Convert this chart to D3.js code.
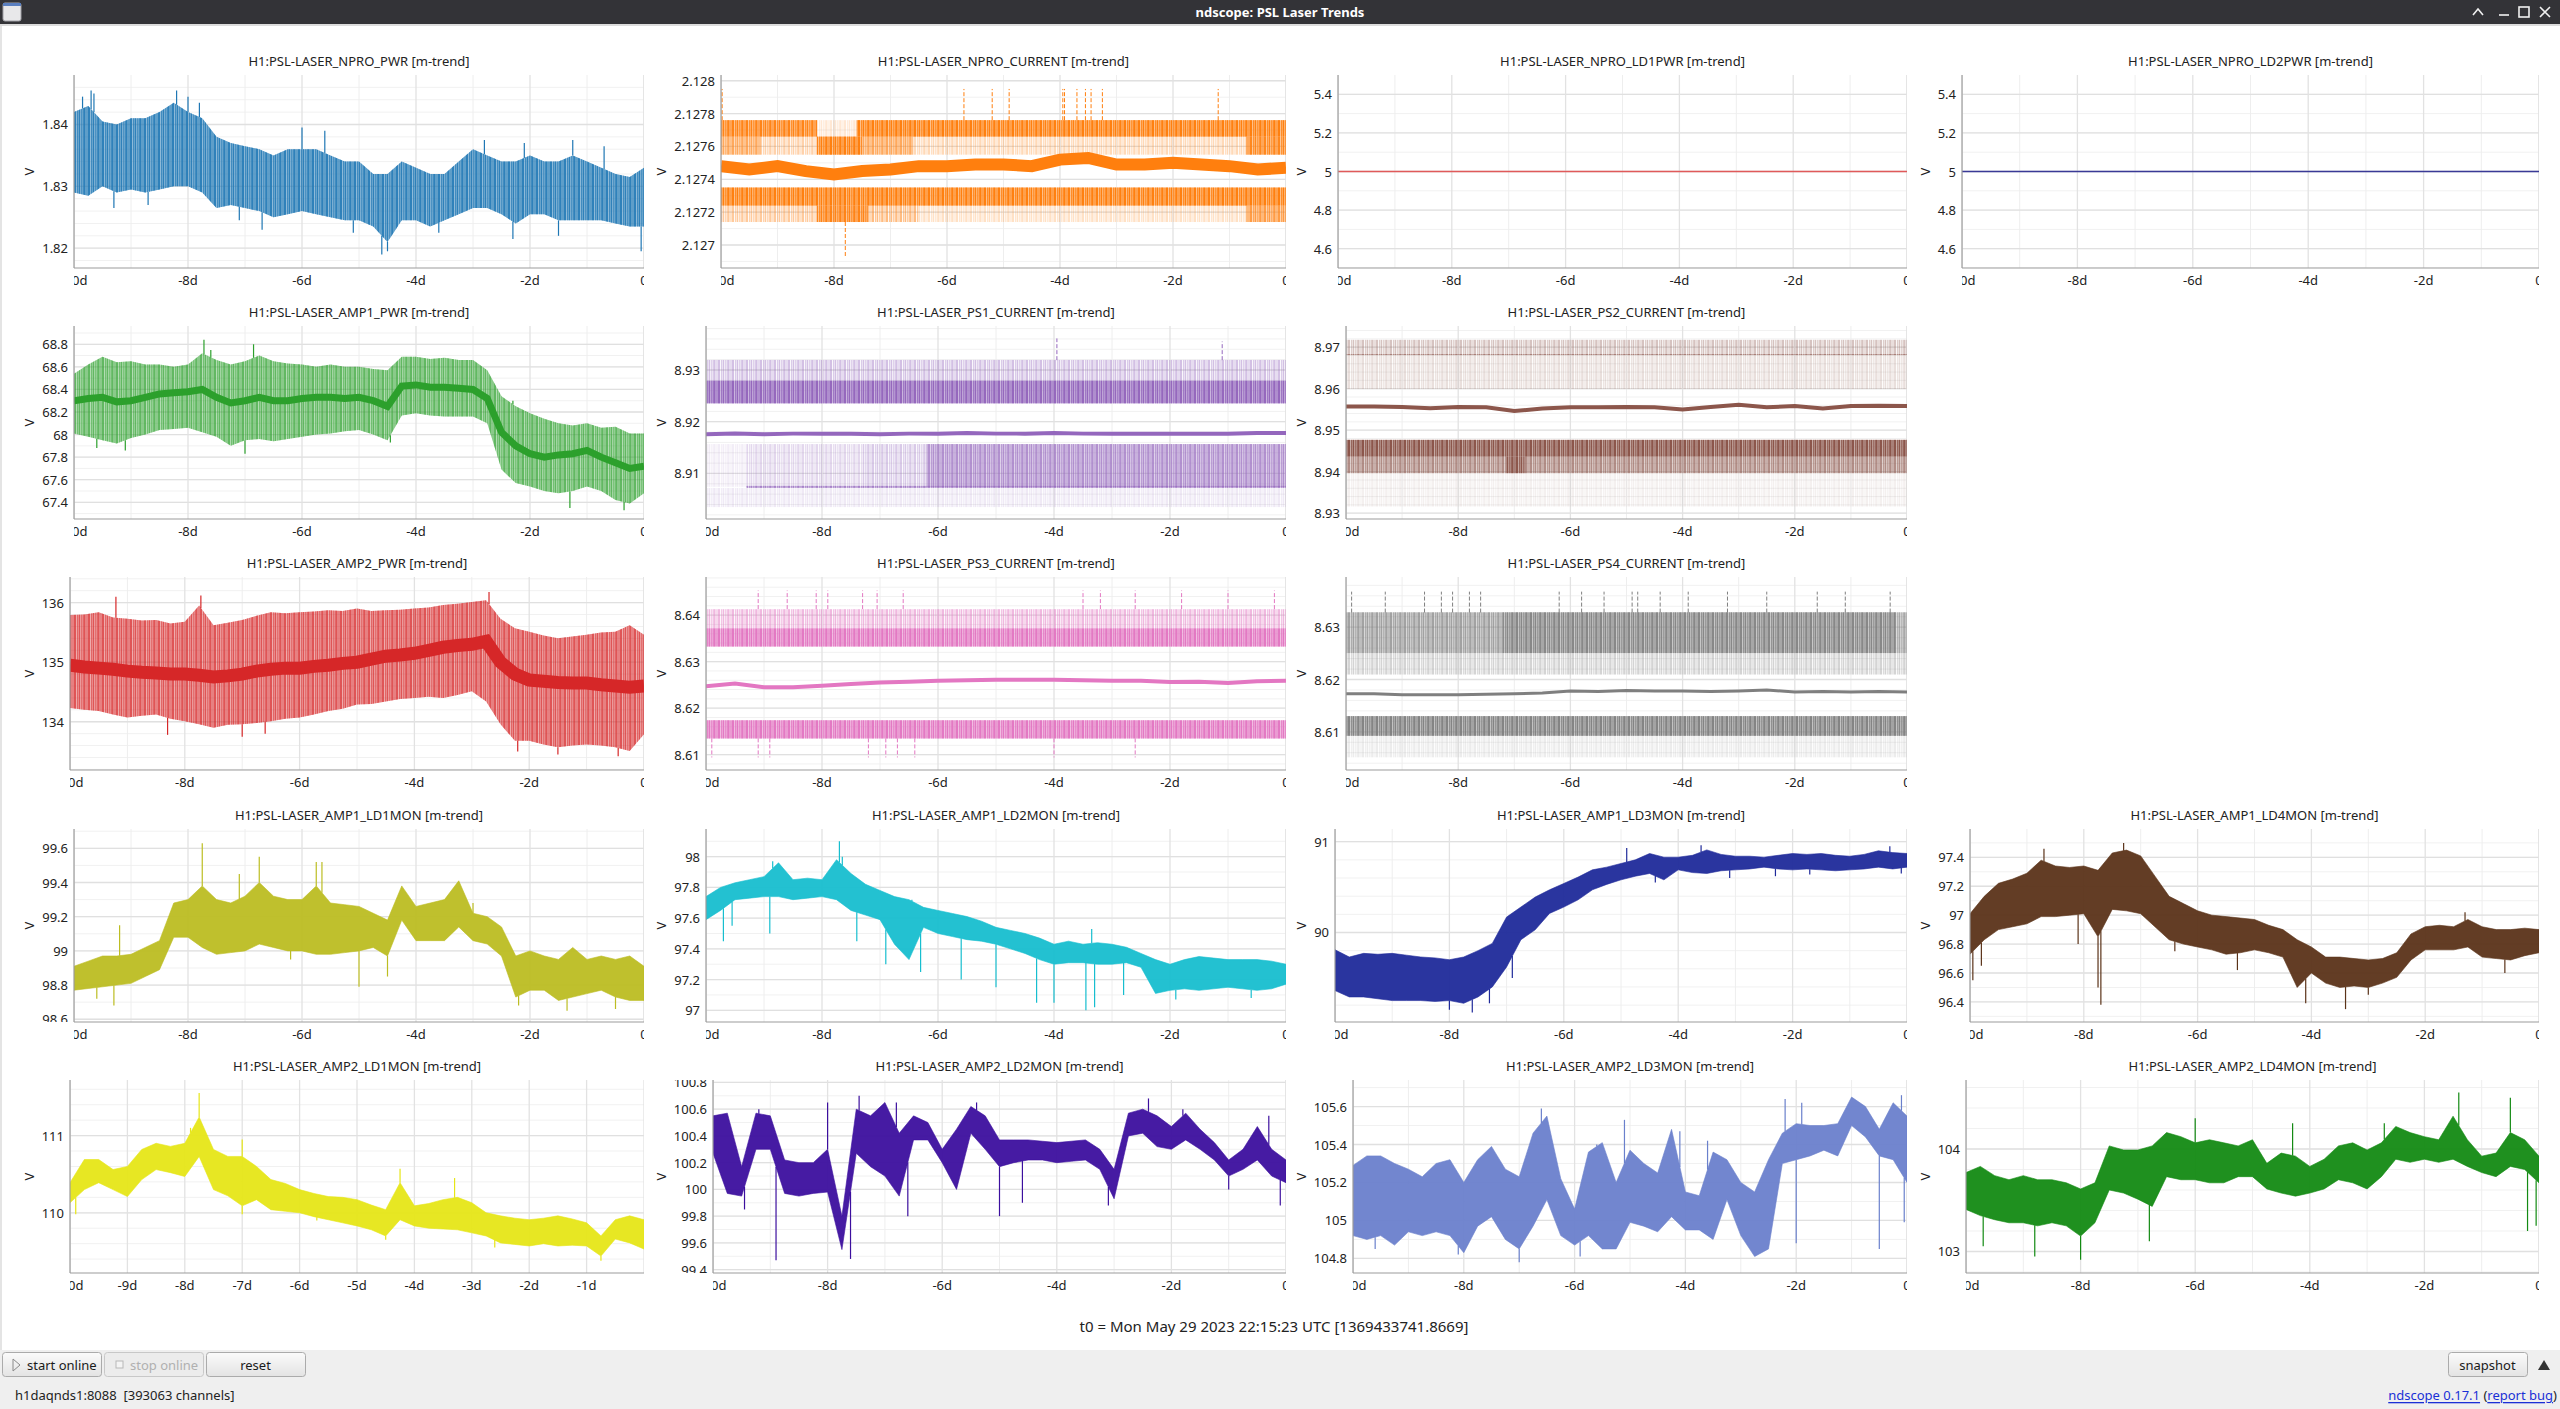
<!DOCTYPE html>
<html>
<head>
<meta charset="utf-8">
<script src="https://cdn.jsdelivr.net/npm/d3@7"></script>
<style>
  body { margin: 0; background: #fff; overflow: hidden; }
  svg { display: block; font-family: "Noto Sans", "DejaVu Sans", sans-serif; }
</style>
</head>
<body>
<svg id="chart" width="2560" height="1409"></svg>
<script>
// ---- data (time in days before t0) ----
const xTicksTwoDay = [-10, -8, -6, -4, -2, 0];
const xMinorTwoDay = [-9, -7, -5, -3, -1];
const xTicksDaily = [-10, -9, -8, -7, -6, -5, -4, -3, -2, -1];

// NPRO_PWR
const nproPwrDomain = [1.8168, 1.848];
const nproPwrTicks = [1.82, 1.83, 1.84];
const nproPwrHi = [1.842, 1.843, 1.8405, 1.840, 1.841, 1.841, 1.842, 1.8435, 1.842, 1.841,
  1.838, 1.837, 1.8365, 1.836, 1.835, 1.836, 1.836, 1.836, 1.835, 1.834,
  1.834, 1.832, 1.832, 1.834, 1.833, 1.832, 1.832, 1.834, 1.836, 1.835,
  1.834, 1.834, 1.835, 1.834, 1.834, 1.835, 1.834, 1.833, 1.832, 1.8315,
  1.833];
const nproPwrLo = [1.829, 1.8285, 1.830, 1.829, 1.8295, 1.829, 1.8295, 1.830, 1.830, 1.829,
  1.8265, 1.827, 1.8265, 1.826, 1.825, 1.8255, 1.826, 1.8255, 1.825, 1.8245,
  1.8245, 1.8235, 1.821, 1.8245, 1.8245, 1.8235, 1.8245, 1.8255, 1.8265, 1.8265,
  1.8255, 1.824, 1.8255, 1.8255, 1.8245, 1.8245, 1.8245, 1.8245, 1.824, 1.8235,
  1.8235];
const nproPwrSpikes = [[-9.85, 1.8445], [-9.7, 1.8455], [-9.65, 1.845], [-8.2, 1.8455], [-8.0, 1.8445],
  [-7.8, 1.8435], [-6.0, 1.8395], [-5.6, 1.839], [-2.8, 1.8375], [-2.1, 1.837], [-1.25, 1.8375],
  [-0.7, 1.8365], [-9.3, 1.8265], [-8.7, 1.827], [-7.1, 1.8245], [-6.7, 1.823], [-5.1, 1.8225],
  [-4.6, 1.819], [-4.5, 1.8195], [-3.6, 1.8225], [-2.3, 1.8215], [-1.5, 1.822], [-0.05, 1.8195]];

// NPRO_CURRENT  (bands: [t0, t1, lo, hi, density])
const nproCurDomain = [2.12686, 2.128035];
const nproCurTicks = [2.127, 2.1272, 2.1274, 2.1276, 2.1278, 2.128];
const nproCurMean = [2.12748, 2.12746, 2.12748, 2.12745, 2.12743, 2.12745, 2.12746, 2.12748, 2.12748, 2.12749,
  2.12749, 2.12748, 2.12752, 2.12753, 2.12749, 2.12749, 2.1275, 2.12749, 2.12748, 2.12746, 2.12747];
const nproCurBands = [
  [-10, -8.3, 2.12766, 2.12776, 0.85], [-8.3, -7.6, 2.12766, 2.12776, 0.15], [-7.6, 0, 2.12766, 2.12776, 0.9],
  [-10, -9.3, 2.12755, 2.12766, 0.5], [-9.3, -8.3, 2.12755, 2.12766, 0.3], [-8.3, -7.5, 2.12755, 2.12766, 0.9],
  [-7.5, -6.6, 2.12755, 2.12766, 0.5], [-6.6, -0.7, 2.12755, 2.12766, 0.25], [-0.7, 0, 2.12755, 2.12766, 0.8],
  [-10, 0, 2.12724, 2.12735, 0.9],
  [-10, -8.3, 2.12714, 2.12724, 0.35], [-8.3, -7.4, 2.12714, 2.12724, 0.85], [-7.4, -6.5, 2.12714, 2.12724, 0.45],
  [-6.5, -0.7, 2.12714, 2.12724, 0.2], [-0.7, 0, 2.12714, 2.12724, 0.6]];
const nproCurSpikes = [[-9.98, 2.12776, 2.12795], [-5.7, 2.12776, 2.12795], [-5.2, 2.12776, 2.12795],
  [-4.9, 2.12776, 2.12795], [-3.95, 2.12776, 2.12795], [-3.92, 2.12776, 2.12795], [-3.7, 2.12776, 2.12795],
  [-3.55, 2.12776, 2.12795], [-3.45, 2.12776, 2.12795], [-3.25, 2.12776, 2.12795], [-1.2, 2.12776, 2.12795],
  [-7.8, 2.12714, 2.12693]];

// NPRO_LD1PWR / LD2PWR
const ldPwrDomain = [4.5, 5.5];
const ldPwrTicks = [4.6, 4.8, 5, 5.2, 5.4];
const ld1PwrVals = [5, 5];
const ld2PwrVals = [5, 5];

// AMP1_PWR
const amp1PwrDomain = [67.252, 68.962];
const amp1PwrTicks = [67.4, 67.6, 67.8, 68, 68.2, 68.4, 68.6, 68.8];
const amp1PwrHi = [68.54, 68.62, 68.69, 68.64, 68.65, 68.62, 68.62, 68.60, 68.62, 68.72,
  68.66, 68.62, 68.65, 68.70, 68.65, 68.63, 68.62, 68.60, 68.62, 68.60,
  68.60, 68.58, 68.57, 68.69, 68.69, 68.67, 68.68, 68.66, 68.66, 68.57,
  68.34, 68.25, 68.19, 68.14, 68.10, 68.08, 68.10, 68.06, 68.07, 68.01,
  68.01];
const amp1PwrLo = [68.01, 67.98, 67.95, 67.92, 67.97, 68.00, 68.04, 68.05, 68.06, 68.02,
  67.98, 67.90, 67.95, 67.96, 67.94, 67.96, 67.98, 68.00, 68.01, 68.03,
  68.04, 68.00, 67.95, 68.17, 68.19, 68.17, 68.16, 68.16, 68.16, 68.10,
  67.69, 67.57, 67.54, 67.50, 67.48, 67.50, 67.54, 67.50, 67.42, 67.39,
  67.48];
const amp1PwrMean = [68.30, 68.32, 68.33, 68.29, 68.30, 68.33, 68.36, 68.37, 68.38, 68.40,
  68.33, 68.28, 68.30, 68.33, 68.30, 68.30, 68.32, 68.33, 68.33, 68.32,
  68.33, 68.30, 68.25, 68.43, 68.44, 68.42, 68.42, 68.41, 68.40, 68.32,
  68.02, 67.90, 67.83, 67.80, 67.82, 67.83, 67.86, 67.80, 67.75, 67.70,
  67.72];
const amp1PwrSpikes = [[-7.72, 68.84], [-7.6, 68.75], [-6.85, 68.8], [-9.6, 67.88], [-9.1, 67.86],
  [-7.0, 67.83], [-4.45, 67.93], [-1.3, 67.35], [-0.35, 67.33], [-2.3, 68.3], [-1.8, 68.15]];

// PS1_CURRENT
const ps1Domain = [8.9012, 8.9385];
const ps1Ticks = [8.91, 8.92, 8.93];
const ps1Mean = [8.9176, 8.9177, 8.9176, 8.9177, 8.9177, 8.9177, 8.9176, 8.9177, 8.9177, 8.9178,
  8.9177, 8.9177, 8.9178, 8.9177, 8.9177, 8.9177, 8.9177, 8.9177, 8.9177, 8.9178, 8.9178];
const ps1Bands = [
  [-10, 0, 8.92794, 8.93194, 0.35], [-10, 0, 8.92355, 8.92794, 0.9],
  [-10, -9.3, 8.90742, 8.91568, 0.1], [-9.3, -7.3, 8.90742, 8.91568, 0.22],
  [-7.3, -6.2, 8.90742, 8.91568, 0.3], [-6.2, 0, 8.90742, 8.91568, 0.55],
  [-9.3, 0, 8.9072, 8.9076, 0.6], [-10, 0, 8.9035, 8.9072, 0.12]];
const ps1Spikes = [[-3.95, 8.9319, 8.9361], [-1.1, 8.9319, 8.9355]];

// PS2_CURRENT
const ps2Domain = [8.9286, 8.9751];
const ps2Ticks = [8.93, 8.94, 8.95, 8.96, 8.97];
const ps2Mean = [8.9557, 8.9557, 8.9556, 8.9553, 8.9556, 8.9555, 8.9546, 8.9552, 8.9555, 8.9555,
  8.9556, 8.9555, 8.9550, 8.9556, 8.9561, 8.9555, 8.9558, 8.9552, 8.9558, 8.9559, 8.9558];
const ps2Bands = [
  [-10, 0, 8.96815, 8.97177, 0.3], [-10, 0, 8.9681, 8.9683, 0.6], [-10, 0, 8.9599, 8.9681, 0.16],
  [-10, 0, 8.94365, 8.94767, 0.92],
  [-10, -7.15, 8.93964, 8.94365, 0.5], [-7.15, -6.8, 8.93964, 8.94365, 0.9], [-6.8, 0, 8.93964, 8.94365, 0.5],
  [-10, 0, 8.9316, 8.93964, 0.08]];
const ps2Spikes = [];

// AMP2_PWR
const amp2PwrDomain = [133.19, 136.43];
const amp2PwrTicks = [134, 135, 136];
const amp2PwrHi = [135.79, 135.80, 135.84, 135.75, 135.73, 135.70, 135.71, 135.65, 135.68, 135.95,
  135.62, 135.66, 135.71, 135.78, 135.84, 135.82, 135.84, 135.85, 135.87, 135.86,
  135.90, 135.86, 135.87, 135.88, 135.90, 135.92, 135.96, 135.98, 136.01, 136.04,
  135.73, 135.57, 135.51, 135.45, 135.40, 135.43, 135.46, 135.50, 135.51, 135.62,
  135.46];
const amp2PwrLo = [134.23, 134.20, 134.18, 134.12, 134.07, 134.10, 134.12, 134.05, 134.01, 133.96,
  133.90, 133.95, 133.96, 133.98, 134.01, 134.05, 134.07, 134.12, 134.18, 134.22,
  134.29, 134.30, 134.34, 134.38, 134.40, 134.42, 134.40, 134.45, 134.51, 134.34,
  133.96, 133.68, 133.68, 133.62, 133.57, 133.60, 133.62, 133.60, 133.57, 133.51,
  133.79];
const amp2PwrMean = [134.95, 134.92, 134.90, 134.88, 134.85, 134.83, 134.82, 134.80, 134.80, 134.78,
  134.75, 134.77, 134.80, 134.85, 134.88, 134.90, 134.90, 134.93, 134.95, 134.98,
  135.00, 135.05, 135.10, 135.12, 135.15, 135.20, 135.25, 135.28, 135.30, 135.35,
  135.00, 134.80, 134.70, 134.68, 134.66, 134.65, 134.65, 134.62, 134.60, 134.58,
  134.60];
const amp2PwrSpikes = [[-9.2, 136.1], [-7.72, 136.12], [-2.7, 136.18], [-7.0, 133.75], [-6.6, 133.8],
  [-8.3, 133.78], [-2.2, 133.5], [-1.5, 133.45], [-0.45, 133.42]];

// PS3_CURRENT
const ps3Domain = [8.6067, 8.6482];
const ps3Ticks = [8.61, 8.62, 8.63, 8.64];
const ps3Mean = [8.6247, 8.6253, 8.6245, 8.6245, 8.6248, 8.6252, 8.6255, 8.6257, 8.6259, 8.6260,
  8.6261, 8.6261, 8.6261, 8.6260, 8.6259, 8.6259, 8.6256, 8.6257, 8.6254, 8.6258, 8.6259];
const ps3Bands = [[-10, 0, 8.63716, 8.64128, 0.45], [-10, 0, 8.63325, 8.63716, 0.88],
  [-10, 0, 8.61348, 8.61739, 0.88]];
const ps3Spikes = [[-9.9, 8.6135, 8.6094], [-9.1, 8.6135, 8.6094], [-8.9, 8.6135, 8.6094],
  [-7.2, 8.6135, 8.6094], [-6.9, 8.6135, 8.6094], [-6.7, 8.6135, 8.6094], [-6.4, 8.6135, 8.6094],
  [-4.0, 8.6135, 8.6094], [-2.6, 8.6135, 8.6094],
  [-9.1, 8.6413, 8.6453], [-8.6, 8.6413, 8.6453], [-8.1, 8.6413, 8.6453], [-7.9, 8.6413, 8.6453],
  [-7.3, 8.6413, 8.6453], [-7.05, 8.6413, 8.6453], [-6.6, 8.6413, 8.6453], [-3.5, 8.6413, 8.6453],
  [-3.2, 8.6413, 8.6453], [-2.6, 8.6413, 8.6453], [-1.8, 8.6413, 8.6453], [-1.0, 8.6413, 8.6453],
  [-0.2, 8.6413, 8.6453]];

// PS4_CURRENT
const ps4Domain = [8.6027, 8.6396];
const ps4Ticks = [8.61, 8.62, 8.63];
const ps4Mean = [8.6173, 8.6173, 8.6171, 8.6171, 8.6171, 8.6172, 8.6173, 8.6174, 8.6178, 8.6177,
  8.6179, 8.6178, 8.6178, 8.6177, 8.6178, 8.6180, 8.6176, 8.6177, 8.6176, 8.6177, 8.6176];
const ps4Bands = [[-10, -7.2, 8.62506, 8.63285, 0.55], [-7.2, -0.2, 8.62506, 8.63285, 0.8],
  [-0.2, 0, 8.62506, 8.63285, 0.5], [-10, 0, 8.62095, 8.62506, 0.28],
  [-10, 0, 8.60924, 8.6130, 0.85], [-10, 0, 8.60513, 8.60924, 0.12]];
const ps4Spikes = [-9.9, -9.3, -8.6, -8.3, -8.1, -7.8, -7.6, -6.2, -5.8, -5.4, -4.9, -4.8, -4.4,
  -3.9, -3.2, -2.5, -1.6, -1.1, -0.3].map(t => [t, 8.6328, 8.6368]);

// AMP1_LD1MON
const a1ld1Domain = [98.584, 99.713];
const a1ld1Ticks = [98.6, 98.8, 99, 99.2, 99.4, 99.6];
const a1ld1Hi = [98.91, 98.94, 98.97, 98.97, 98.98, 99.02, 99.06, 99.28, 99.30, 99.38,
  99.30, 99.28, 99.32, 99.40, 99.32, 99.30, 99.30, 99.38, 99.28, 99.27,
  99.26, 99.22, 99.18, 99.38, 99.26, 99.28, 99.30, 99.41, 99.22, 99.20,
  99.14, 98.97, 99.00, 98.97, 98.95, 99.02, 98.95, 98.97, 98.95, 98.97,
  98.91];
const a1ld1Lo = [98.77, 98.78, 98.79, 98.80, 98.81, 98.85, 98.89, 99.08, 99.08, 99.02,
  98.98, 98.99, 99.00, 99.04, 99.02, 99.00, 99.00, 98.98, 98.98, 98.99,
  99.00, 99.02, 98.97, 99.18, 99.06, 99.06, 99.06, 99.14, 99.06, 99.04,
  98.97, 98.73, 98.77, 98.77, 98.71, 98.73, 98.75, 98.77, 98.73, 98.71,
  98.71];
const a1ld1Spikes = [[-7.75, 99.63], [-6.75, 99.55], [-5.75, 99.52], [-5.65, 99.52], [-9.2, 99.15],
  [-8.1, 99.28], [-7.1, 99.45], [-5.0, 98.79], [-4.5, 98.85], [-9.6, 98.72], [-9.3, 98.68],
  [-2.2, 98.68], [-1.35, 98.65], [-0.5, 98.66], [-6.2, 98.95], [-3.0, 99.28]];

// AMP1_LD2MON
const a1ld2Domain = [96.924, 98.18];
const a1ld2Ticks = [97, 97.2, 97.4, 97.6, 97.8, 98];
const a1ld2Hi = [97.74, 97.80, 97.83, 97.85, 97.87, 97.96, 97.85, 97.86, 97.85, 97.98,
  97.89, 97.82, 97.78, 97.74, 97.72, 97.67, 97.65, 97.63, 97.61, 97.58,
  97.54, 97.52, 97.50, 97.47, 97.43, 97.45, 97.43, 97.44, 97.43, 97.41,
  97.37, 97.33, 97.30, 97.33, 97.35, 97.34, 97.33, 97.33, 97.33, 97.32,
  97.30];
const a1ld2Lo = [97.59, 97.65, 97.72, 97.73, 97.74, 97.74, 97.72, 97.73, 97.74, 97.72,
  97.65, 97.62, 97.59, 97.43, 97.33, 97.54, 97.50, 97.48, 97.46, 97.45,
  97.43, 97.40, 97.37, 97.33, 97.30, 97.31, 97.31, 97.30, 97.30, 97.31,
  97.28, 97.11, 97.13, 97.14, 97.13, 97.14, 97.15, 97.14, 97.13, 97.14,
  97.17];
const a1ld2Spikes = [[-9.7, 97.45], [-9.55, 97.55], [-8.9, 97.5], [-8.85, 97.97], [-7.7, 98.1],
  [-7.65, 98.0], [-7.4, 97.45], [-6.9, 97.3], [-6.3, 97.25], [-6.45, 97.72], [-5.6, 97.2],
  [-5.0, 97.15], [-4.3, 97.05], [-4.0, 97.05], [-3.45, 97.0], [-3.3, 97.02], [-3.35, 97.53],
  [-2.8, 97.1], [-1.9, 97.07], [-0.6, 97.08]];

// AMP1_LD3MON
const a1ld3Domain = [89.014, 91.14];
const a1ld3Ticks = [90, 91];
const a1ld3Hi = [89.81, 89.73, 89.77, 89.76, 89.77, 89.75, 89.73, 89.72, 89.70, 89.73,
  89.80, 89.88, 90.17, 90.28, 90.39, 90.47, 90.54, 90.61, 90.69, 90.72,
  90.76, 90.80, 90.87, 90.83, 90.83, 90.85, 90.91, 90.86, 90.84, 90.84,
  90.83, 90.85, 90.87, 90.86, 90.87, 90.85, 90.84, 90.86, 90.90, 90.88,
  90.87];
const a1ld3Lo = [89.36, 89.29, 89.29, 89.27, 89.25, 89.25, 89.25, 89.24, 89.25, 89.22,
  89.29, 89.40, 89.62, 89.92, 90.03, 90.21, 90.28, 90.36, 90.47, 90.53,
  90.58, 90.62, 90.65, 90.58, 90.69, 90.66, 90.65, 90.68, 90.69, 90.70,
  90.72, 90.70, 90.69, 90.70, 90.69, 90.68, 90.69, 90.70, 90.72, 90.70,
  90.72];
const a1ld3Spikes = [[-8.0, 89.15], [-7.6, 89.12], [-7.3, 89.22], [-6.9, 89.5], [-4.4, 90.55],
  [-4.9, 90.93], [-3.6, 90.96], [-3.1, 90.6], [-2.3, 90.62], [-1.7, 90.64], [-0.1, 90.65], [-0.3, 90.95]];

// AMP1_LD4MON
const a1ld4Domain = [96.261, 97.596];
const a1ld4Ticks = [96.4, 96.6, 96.8, 97, 97.2, 97.4];
const a1ld4Hi = [97.01, 97.13, 97.22, 97.25, 97.29, 97.38, 97.34, 97.33, 97.34, 97.31,
  97.43, 97.45, 97.41, 97.27, 97.13, 97.08, 97.03, 97.00, 96.99, 96.98,
  96.97, 96.93, 96.90, 96.83, 96.78, 96.71, 96.71, 96.70, 96.69, 96.70,
  96.74, 96.87, 96.92, 96.93, 96.92, 96.97, 96.92, 96.90, 96.90, 96.91,
  96.90];
const a1ld4Lo = [96.73, 96.83, 96.90, 96.92, 96.94, 96.99, 96.99, 97.00, 97.01, 96.85,
  97.04, 97.03, 97.01, 96.92, 96.83, 96.80, 96.78, 96.76, 96.73, 96.74,
  96.76, 96.74, 96.71, 96.50, 96.60, 96.53, 96.50, 96.51, 96.50, 96.53,
  96.57, 96.69, 96.76, 96.76, 96.76, 96.78, 96.71, 96.70, 96.69, 96.72,
  96.74];
const a1ld4Spikes = [[-9.95, 96.55], [-9.8, 96.65], [-8.7, 97.46], [-8.1, 96.80], [-7.7, 96.38],
  [-7.75, 96.5], [-7.3, 97.50], [-6.4, 96.75], [-5.3, 96.62], [-4.1, 96.39], [-3.4, 96.35],
  [-3.0, 96.45], [-1.3, 97.02], [-0.6, 96.6]];

// AMP2_LD1MON
const a2ld1Domain = [109.22, 111.72];
const a2ld1Ticks = [110, 111];
const a2ld1Hi = [110.39, 110.69, 110.69, 110.56, 110.60, 110.82, 110.90, 110.86, 110.90, 111.24,
  110.82, 110.73, 110.73, 110.60, 110.43, 110.38, 110.30, 110.25, 110.21, 110.20,
  110.17, 110.10, 110.04, 110.39, 110.09, 110.12, 110.17, 110.20, 110.13, 110.00,
  109.96, 109.93, 109.91, 109.93, 109.96, 109.92, 109.87, 109.70, 109.91, 109.96,
  109.91];
const a2ld1Lo = [110.13, 110.30, 110.39, 110.30, 110.21, 110.43, 110.56, 110.52, 110.47, 110.73,
  110.30, 110.22, 110.09, 110.17, 110.04, 110.02, 110.00, 109.95, 109.91, 109.87,
  109.83, 109.78, 109.70, 109.91, 109.83, 109.80, 109.79, 109.78, 109.74, 109.70,
  109.61, 109.59, 109.57, 109.60, 109.57, 109.58, 109.57, 109.44, 109.66, 109.61,
  109.53];
const a2ld1Spikes = [[-7.75, 111.55], [-7.9, 111.1], [-7.0, 110.95], [-4.25, 110.57], [-3.3, 110.45],
  [-9.9, 109.98], [-7.0, 109.98], [-4.5, 109.65], [-0.75, 109.38], [-2.6, 109.55], [-5.7, 109.9]];

// AMP2_LD2MON
const a2ld2Domain = [99.375, 100.818];
const a2ld2Ticks = [99.4, 99.6, 99.8, 100, 100.2, 100.4, 100.6, 100.8];
const a2ld2Hi = [100.55, 100.57, 100.17, 100.57, 100.55, 100.22, 100.20, 100.20, 100.30, 99.80,
  100.60, 100.55, 100.65, 100.42, 100.55, 100.50, 100.30, 100.45, 100.62, 100.55,
  100.37, 100.37, 100.37, 100.36, 100.35, 100.36, 100.37, 100.30, 100.15, 100.57,
  100.60, 100.55, 100.47, 100.57, 100.45, 100.35, 100.22, 100.30, 100.47, 100.30,
  100.22];
const a2ld2Lo = [100.27, 99.97, 99.95, 100.30, 100.30, 99.97, 99.95, 99.97, 99.98, 99.55,
  100.27, 100.17, 100.10, 99.95, 100.37, 100.37, 100.20, 100.00, 100.42, 100.30,
  100.17, 100.20, 100.22, 100.22, 100.20, 100.21, 100.22, 100.15, 99.93, 100.40,
  100.42, 100.32, 100.30, 100.37, 100.30, 100.22, 100.10, 100.15, 100.22, 100.10,
  100.05];
const a2ld2Spikes = [[-8.9, 99.47], [-7.6, 99.48], [-7.45, 100.7], [-9.2, 100.6], [-8.0, 100.65],
  [-6.8, 100.65], [-5.4, 100.65], [-2.4, 100.68], [-1.8, 100.6], [-0.3, 100.55], [-5.0, 99.8],
  [-6.6, 99.8], [-9.45, 99.85], [-3.1, 99.88], [-0.1, 99.88], [-4.6, 99.9], [-1.0, 100.0]];

// AMP2_LD3MON
const a2ld3Domain = [104.723, 105.74];
const a2ld3Ticks = [104.8, 105, 105.2, 105.4, 105.6];
const a2ld3Hi = [105.29, 105.34, 105.34, 105.30, 105.27, 105.23, 105.30, 105.32, 105.20, 105.32,
  105.39, 105.27, 105.23, 105.46, 105.55, 105.22, 105.06, 105.36, 105.41, 105.20,
  105.37, 105.30, 105.25, 105.48, 105.15, 105.13, 105.36, 105.32, 105.20, 105.15,
  105.32, 105.46, 105.51, 105.50, 105.50, 105.51, 105.65, 105.60, 105.48, 105.62,
  105.55];
const a2ld3Lo = [104.92, 104.90, 104.92, 104.87, 104.94, 104.92, 104.94, 104.92, 104.83, 104.97,
  105.02, 104.90, 104.85, 104.97, 105.11, 104.92, 104.87, 104.92, 104.85, 104.85,
  104.99, 104.97, 104.94, 105.02, 104.95, 104.95, 104.90, 105.11, 104.92, 104.81,
  104.85, 105.30, 105.32, 105.34, 105.37, 105.34, 105.50, 105.44, 105.34, 105.32,
  105.20];
const a2ld3Spikes = [[-6.6, 105.59], [-5.6, 105.40], [-5.1, 105.53], [-4.1, 105.47], [-7.0, 104.78],
  [-5.9, 104.81], [-8.1, 104.82], [-2.0, 104.88], [-0.5, 104.85], [-0.05, 104.99], [-2.2, 105.64],
  [-1.9, 105.62], [-0.1, 105.66], [-9.6, 104.85], [-3.6, 105.42]];

// AMP2_LD4MON
const a2ld4Domain = [102.79, 104.673];
const a2ld4Ticks = [103, 104];
const a2ld4Hi = [103.77, 103.83, 103.74, 103.70, 103.74, 103.70, 103.70, 103.67, 103.61, 103.67,
  104.03, 103.99, 103.99, 104.03, 104.16, 104.12, 104.06, 104.09, 104.06, 104.03,
  104.09, 103.86, 103.96, 103.93, 103.83, 103.90, 104.03, 104.06, 103.99, 104.06,
  104.22, 104.16, 104.12, 104.09, 104.32, 104.09, 103.93, 103.96, 104.16, 104.09,
  103.93];
const a2ld4Lo = [103.41, 103.35, 103.31, 103.28, 103.28, 103.25, 103.28, 103.25, 103.15, 103.28,
  103.60, 103.57, 103.51, 103.44, 103.73, 103.70, 103.70, 103.67, 103.67, 103.73,
  103.73, 103.61, 103.57, 103.54, 103.57, 103.61, 103.70, 103.67, 103.61, 103.73,
  103.90, 103.87, 103.90, 103.87, 103.90, 103.83, 103.77, 103.73, 103.83, 103.80,
  103.67];
const a2ld4Spikes = [[-8.0, 102.92], [-8.8, 102.95], [-9.7, 103.05], [-6.8, 103.1], [-1.4, 104.55],
  [-0.5, 104.5], [-6.0, 104.3], [-4.3, 104.25], [-2.7, 104.25], [-0.05, 103.25], [-0.2, 103.2]];

// ---- plot table ----
const plots = [
  { row: 0, col: 0, name: "H1:PSL-LASER_NPRO_PWR", color: "#1f77b4", yDomain: nproPwrDomain, yTicks: nproPwrTicks,
    kind: "env", hi: nproPwrHi, lo: nproPwrLo, spikes: nproPwrSpikes, envOpacity: 0.85, streaks: true },
  { row: 0, col: 1, name: "H1:PSL-LASER_NPRO_CURRENT", color: "#ff7f0e", yDomain: nproCurDomain, yTicks: nproCurTicks,
    kind: "quant", mean: nproCurMean, bands: nproCurBands, spikes: nproCurSpikes, meanWidth: 12 },
  { row: 0, col: 2, name: "H1:PSL-LASER_NPRO_LD1PWR", color: "#e05a5a", yDomain: ldPwrDomain, yTicks: ldPwrTicks,
    kind: "line", vals: ld1PwrVals },
  { row: 0, col: 3, name: "H1:PSL-LASER_NPRO_LD2PWR", color: "#3a3a96", yDomain: ldPwrDomain, yTicks: ldPwrTicks,
    kind: "line", vals: ld2PwrVals },
  { row: 1, col: 0, name: "H1:PSL-LASER_AMP1_PWR", color: "#2ca02c", yDomain: amp1PwrDomain, yTicks: amp1PwrTicks,
    kind: "env", hi: amp1PwrHi, lo: amp1PwrLo, mean: amp1PwrMean, spikes: amp1PwrSpikes, envOpacity: 0.6, meanWidth: 7, streaks: true },
  { row: 1, col: 1, name: "H1:PSL-LASER_PS1_CURRENT", color: "#9467bd", yDomain: ps1Domain, yTicks: ps1Ticks,
    kind: "quant", mean: ps1Mean, bands: ps1Bands, spikes: ps1Spikes, meanWidth: 4 },
  { row: 1, col: 2, name: "H1:PSL-LASER_PS2_CURRENT", color: "#8c564b", yDomain: ps2Domain, yTicks: ps2Ticks,
    kind: "quant", mean: ps2Mean, bands: ps2Bands, spikes: ps2Spikes, meanWidth: 4 },
  { row: 2, col: 0, name: "H1:PSL-LASER_AMP2_PWR", color: "#d62728", yDomain: amp2PwrDomain, yTicks: amp2PwrTicks,
    kind: "env", hi: amp2PwrHi, lo: amp2PwrLo, mean: amp2PwrMean, spikes: amp2PwrSpikes, envOpacity: 0.65, meanWidth: 13, streaks: true },
  { row: 2, col: 1, name: "H1:PSL-LASER_PS3_CURRENT", color: "#e377c2", yDomain: ps3Domain, yTicks: ps3Ticks,
    kind: "quant", mean: ps3Mean, bands: ps3Bands, spikes: ps3Spikes, meanWidth: 4 },
  { row: 2, col: 2, name: "H1:PSL-LASER_PS4_CURRENT", color: "#7f7f7f", yDomain: ps4Domain, yTicks: ps4Ticks,
    kind: "quant", mean: ps4Mean, bands: ps4Bands, spikes: ps4Spikes, meanWidth: 3 },
  { row: 3, col: 0, name: "H1:PSL-LASER_AMP1_LD1MON", color: "#bcbd22", yDomain: a1ld1Domain, yTicks: a1ld1Ticks,
    kind: "env", hi: a1ld1Hi, lo: a1ld1Lo, spikes: a1ld1Spikes, envOpacity: 0.95 },
  { row: 3, col: 1, name: "H1:PSL-LASER_AMP1_LD2MON", color: "#17becf", yDomain: a1ld2Domain, yTicks: a1ld2Ticks,
    kind: "env", hi: a1ld2Hi, lo: a1ld2Lo, spikes: a1ld2Spikes, envOpacity: 0.95 },
  { row: 3, col: 2, name: "H1:PSL-LASER_AMP1_LD3MON", color: "#1f2a9a", yDomain: a1ld3Domain, yTicks: a1ld3Ticks,
    kind: "env", hi: a1ld3Hi, lo: a1ld3Lo, spikes: a1ld3Spikes, envOpacity: 0.95 },
  { row: 3, col: 3, name: "H1:PSL-LASER_AMP1_LD4MON", color: "#5b3319", yDomain: a1ld4Domain, yTicks: a1ld4Ticks,
    kind: "env", hi: a1ld4Hi, lo: a1ld4Lo, spikes: a1ld4Spikes, envOpacity: 0.95 },
  { row: 4, col: 0, name: "H1:PSL-LASER_AMP2_LD1MON", color: "#e6e617", yDomain: a2ld1Domain, yTicks: a2ld1Ticks,
    kind: "env", hi: a2ld1Hi, lo: a2ld1Lo, spikes: a2ld1Spikes, envOpacity: 0.95, daily: true },
  { row: 4, col: 1, name: "H1:PSL-LASER_AMP2_LD2MON", color: "#3c0f9e", yDomain: a2ld2Domain, yTicks: a2ld2Ticks,
    kind: "env", hi: a2ld2Hi, lo: a2ld2Lo, spikes: a2ld2Spikes, envOpacity: 0.95 },
  { row: 4, col: 2, name: "H1:PSL-LASER_AMP2_LD3MON", color: "#6a80cc", yDomain: a2ld3Domain, yTicks: a2ld3Ticks,
    kind: "env", hi: a2ld3Hi, lo: a2ld3Lo, spikes: a2ld3Spikes, envOpacity: 0.95 },
  { row: 4, col: 3, name: "H1:PSL-LASER_AMP2_LD4MON", color: "#138a13", yDomain: a2ld4Domain, yTicks: a2ld4Ticks,
    kind: "env", hi: a2ld4Hi, lo: a2ld4Lo, spikes: a2ld4Spikes, envOpacity: 0.95 }
];

// ---- layout ----
const rowTop = [75, 326, 577, 829, 1080];
const plotH = 193;
const colYLabelX = [29, 661, 1301, 1925];
const colRight = [644, 1286, 1907, 2539];
const TXT = "#222";
// irregular vertical streak texture used to mimic dense min/max traces (x offset, width)
const streakCols = [[0, 1.5], [2.5, 1], [4, 2], [7, 0.8], [8.6, 1.6], [11.2, 0.7], [12.6, 1.2]];
const streakPeriod = 14;

const svg = d3.select("#chart");
const defs = svg.append("defs");

// window chrome
svg.append("rect").attr("x", 0).attr("y", 0).attr("width", 2560).attr("height", 1409).attr("fill", "#ffffff");
svg.append("rect").attr("x", 0).attr("y", 0).attr("width", 2560).attr("height", 24).attr("fill", "#333337");
svg.append("rect").attr("x", 0).attr("y", 24).attr("width", 2560).attr("height", 2).attr("fill", "#dcdcdc");
svg.append("rect").attr("x", 0).attr("y", 26).attr("width", 2).attr("height", 1324).attr("fill", "#e4e4e4");
svg.append("rect").attr("x", 3).attr("y", 3).attr("width", 18).attr("height", 18).attr("rx", 2)
  .attr("fill", "#e8e8ea").attr("stroke", "#a0a0a6");
svg.append("rect").attr("x", 3).attr("y", 3).attr("width", 18).attr("height", 3).attr("fill", "#5a7fc0");
svg.append("text").attr("x", 1280).attr("y", 12).attr("text-anchor", "middle").attr("dominant-baseline", "central")
  .attr("fill", "#ffffff").attr("font-size", 13).attr("font-weight", "bold").text("ndscope: PSL Laser Trends");
const wc = svg.append("g").attr("stroke", "#f0f0f0").attr("stroke-width", 1.6).attr("fill", "none");
wc.append("path").attr("d", "M2473,15 L2478,9 L2483,15");
wc.append("path").attr("d", "M2499,15 L2509,15");
wc.append("rect").attr("x", 2519).attr("y", 7).attr("width", 10).attr("height", 10);
wc.append("path").attr("d", "M2540,7 L2550,17 M2550,7 L2540,17");

// text width helper
const meas = svg.append("text").attr("font-size", 13).attr("visibility", "hidden");
function textW(s) { meas.text(s); return meas.node().getComputedTextLength(); }

const timesFor = arr => arr.map((v, k) => -10 + k * 10 / (arr.length - 1));
function interp(arr, t) {
  const f = (t + 10) / 10 * (arr.length - 1);
  const k = Math.max(0, Math.min(Math.floor(f), arr.length - 2));
  return arr[k] + (arr[k + 1] - arr[k]) * (f - k);
}
function streakPattern(id, color) {
  const pat = defs.append("pattern").attr("id", id).attr("patternUnits", "userSpaceOnUse")
    .attr("width", streakPeriod).attr("height", 40);
  streakCols.forEach(c => pat.append("rect").attr("x", c[0]).attr("y", 0)
    .attr("width", c[1]).attr("height", 40).attr("fill", color));
  return `url(#${id})`;
}

plots.forEach((p, i) => {
  const top = rowTop[p.row], bottom = top + plotH;
  const left = Math.round(colYLabelX[p.col] + 19 + d3.max(p.yTicks, v => textW(String(v))));
  const right = colRight[p.col];
  const x = d3.scaleLinear().domain([-10, 0]).range([left, right]);
  const y = d3.scaleLinear().domain(p.yDomain).range([bottom, top]);

  defs.append("clipPath").attr("id", `area${i}`).append("rect")
    .attr("x", left).attr("y", top).attr("width", right - left).attr("height", plotH);
  defs.append("clipPath").attr("id", `xl${i}`).append("rect")
    .attr("x", left).attr("y", bottom).attr("width", right - left).attr("height", 30);
  defs.append("clipPath").attr("id", `yl${i}`).append("rect")
    .attr("x", left - 80).attr("y", top).attr("width", 80).attr("height", plotH);
  const streak = streakPattern(`st${i}`, p.color);

  const g = svg.append("g");

  // grid
  const grid = g.append("g").attr("clip-path", `url(#area${i})`);
  const step = p.yTicks[1] - p.yTicks[0];
  const lead = Math.round(step / Math.pow(10, Math.floor(Math.log10(step) + 1e-9)));
  const ms = lead === 1 ? step / 5 : step / 2;
  const minorY = d3.range(Math.ceil(p.yDomain[0] / ms), Math.floor(p.yDomain[1] / ms) + 1).map(k => k * ms);
  const xMajor = p.daily ? xTicksDaily : xTicksTwoDay;
  const xMinor = p.daily ? [] : xMinorTwoDay;
  grid.selectAll(".ym").data(minorY).join("line")
    .attr("x1", left).attr("x2", right).attr("y1", d => y(d)).attr("y2", d => y(d))
    .attr("stroke", "#f1f1f1").attr("stroke-width", 1);
  grid.selectAll(".xm").data(xMinor).join("line")
    .attr("x1", d => x(d)).attr("x2", d => x(d)).attr("y1", top).attr("y2", bottom)
    .attr("stroke", "#eeeeee").attr("stroke-width", 1);
  grid.selectAll(".yM").data(p.yTicks).join("line")
    .attr("x1", left).attr("x2", right).attr("y1", d => y(d)).attr("y2", d => y(d))
    .attr("stroke", "#e0e0e0").attr("stroke-width", 1.3);
  grid.selectAll(".xM").data(xMajor.concat([0])).join("line")
    .attr("x1", d => x(d)).attr("x2", d => x(d)).attr("y1", top).attr("y2", bottom)
    .attr("stroke", "#e2e2e2").attr("stroke-width", 1.3);

  // data
  const dg = g.append("g").attr("clip-path", `url(#area${i})`);
  if (p.kind === "env") {
    const ts = timesFor(p.hi);
    const pts = ts.map((t, k) => ({ t, lo: p.lo[k], hi: p.hi[k] }));
    const area = d3.area().x(d => x(d.t)).y0(d => y(d.lo)).y1(d => y(d.hi));
    if (p.streaks) {
      dg.append("path").datum(pts).attr("d", area)
        .attr("fill", p.color).attr("fill-opacity", p.envOpacity * 0.6);
      dg.append("path").datum(pts).attr("d", area)
        .attr("fill", streak).attr("fill-opacity", p.envOpacity);
    } else {
      dg.append("path").datum(pts).attr("d", area)
        .attr("fill", p.color).attr("fill-opacity", p.envOpacity)
        .attr("stroke", p.color).attr("stroke-width", 1).attr("stroke-opacity", 0.6);
    }
    if (p.mean) {
      dg.append("path").datum(p.mean)
        .attr("d", d3.line().x((v, k) => x(ts[k])).y(v => y(v)))
        .attr("fill", "none").attr("stroke", p.color).attr("stroke-width", p.meanWidth);
    }
    dg.selectAll(".spk").data(p.spikes).join("line")
      .attr("x1", d => x(d[0])).attr("x2", d => x(d[0]))
      .attr("y1", d => {
        const h = interp(p.hi, d[0]), l = interp(p.lo, d[0]);
        return y(d[1] > h ? h : (d[1] < l ? l : d[1]));
      })
      .attr("y2", d => y(d[1]))
      .attr("stroke", p.color).attr("stroke-width", 1.2);
  } else if (p.kind === "quant") {
    // solid wash only for dense bands, sparse ones are streaks on white
    dg.selectAll(".band").data(p.bands).join("rect")
      .attr("x", d => x(d[0])).attr("width", d => x(d[1]) - x(d[0]))
      .attr("y", d => y(d[3])).attr("height", d => y(d[2]) - y(d[3]))
      .attr("fill", p.color).attr("fill-opacity", d => d[4] >= 0.5 ? d[4] * 0.55 : d[4] * 0.12);
    dg.selectAll(".bandst").data(p.bands).join("rect")
      .attr("x", d => x(d[0])).attr("width", d => x(d[1]) - x(d[0]))
      .attr("y", d => y(d[3])).attr("height", d => y(d[2]) - y(d[3]))
      .attr("fill", streak).attr("fill-opacity", d => Math.min(1, d[4] * 1.1));
    const ts = timesFor(p.mean);
    dg.append("path").datum(p.mean)
      .attr("d", d3.line().x((v, k) => x(ts[k])).y(v => y(v)))
      .attr("fill", "none").attr("stroke", p.color).attr("stroke-width", p.meanWidth);
    dg.selectAll(".spk").data(p.spikes).join("line")
      .attr("x1", d => x(d[0])).attr("x2", d => x(d[0]))
      .attr("y1", d => y(d[1])).attr("y2", d => y(d[2]))
      .attr("stroke", p.color).attr("stroke-width", 1).attr("stroke-dasharray", "4,2");
  } else {
    const ts = timesFor(p.vals);
    dg.append("path").datum(p.vals)
      .attr("d", d3.line().x((v, k) => x(ts[k])).y(v => y(v)))
      .attr("fill", "none").attr("stroke", p.color).attr("stroke-width", 1.6);
  }

  // axes
  g.append("line").attr("x1", left).attr("x2", left).attr("y1", top).attr("y2", bottom)
    .attr("stroke", "#9c9c9c").attr("stroke-width", 1.2);
  g.append("line").attr("x1", left).attr("x2", right).attr("y1", bottom).attr("y2", bottom)
    .attr("stroke", "#9c9c9c").attr("stroke-width", 1.2);

  g.append("g").attr("clip-path", `url(#yl${i})`)
    .selectAll("text").data(p.yTicks).join("text")
    .attr("x", left - 6).attr("y", d => y(d)).attr("text-anchor", "end").attr("dominant-baseline", "central")
    .attr("font-size", 13).attr("fill", TXT).text(d => String(d));

  g.append("g").attr("clip-path", `url(#xl${i})`)
    .selectAll("text").data(p.daily ? xTicksDaily : xTicksTwoDay).join("text")
    .attr("x", d => x(d)).attr("y", bottom + 12).attr("text-anchor", "middle").attr("dominant-baseline", "central")
    .attr("font-size", 13).attr("fill", TXT).text(d => d === 0 ? "0" : `${d}d`);

  g.append("text").attr("transform", `translate(${colYLabelX[p.col]},${(top + bottom) / 2}) rotate(-90)`)
    .attr("text-anchor", "middle").attr("dominant-baseline", "central")
    .attr("font-size", 13).attr("fill", TXT).text("V");

  g.append("text").attr("x", (left + right) / 2).attr("y", top - 14)
    .attr("text-anchor", "middle").attr("dominant-baseline", "central")
    .attr("font-size", 13).attr("fill", TXT).text(`${p.name} [m-trend]`);
});

// t0 label
svg.append("text").attr("x", 1274).attr("y", 1326).attr("text-anchor", "middle").attr("dominant-baseline", "central")
  .attr("font-size", 15).attr("fill", TXT).text("t0 = Mon May 29 2023 22:15:23 UTC [1369433741.8669]");

// bottom panel
svg.append("rect").attr("x", 0).attr("y", 1350).attr("width", 2560).attr("height", 59).attr("fill", "#efefef");
const grad = defs.append("linearGradient").attr("id", "btn").attr("x1", 0).attr("x2", 0).attr("y1", 0).attr("y2", 1);
grad.append("stop").attr("offset", "0%").attr("stop-color", "#fbfbfb");
grad.append("stop").attr("offset", "100%").attr("stop-color", "#e3e3e3");

const buttons = [
  { x: 2, w: 99, label: "start online", icon: "play", enabled: true },
  { x: 104, w: 99, label: "stop online", icon: "stop", enabled: false },
  { x: 206, w: 99, label: "reset", icon: null, enabled: true },
  { x: 2448, w: 79, label: "snapshot", icon: null, enabled: true }
];
buttons.forEach(b => {
  svg.append("rect").attr("x", b.x + 0.5).attr("y", 1352.5).attr("width", b.w).attr("height", 24).attr("rx", 3)
    .attr("fill", b.enabled ? "url(#btn)" : "#ececec").attr("stroke", b.enabled ? "#ababab" : "#c8c8c8");
  const col = b.enabled ? "#1a1a1a" : "#b0b0b0";
  if (b.icon === "play") {
    svg.append("path").attr("d", `M${b.x + 11},1359 L${b.x + 18},1365 L${b.x + 11},1371 Z`)
      .attr("fill", "none").attr("stroke", "#8a8a8a").attr("stroke-width", 1);
    svg.append("text").attr("x", b.x + 25).attr("y", 1365).attr("dominant-baseline", "central")
      .attr("font-size", 13).attr("fill", col).text(b.label);
  } else if (b.icon === "stop") {
    svg.append("rect").attr("x", b.x + 12).attr("y", 1361).attr("width", 7).attr("height", 7)
      .attr("fill", "#f4f4f4").attr("stroke", "#b8b8b8");
    svg.append("text").attr("x", b.x + 26).attr("y", 1365).attr("dominant-baseline", "central")
      .attr("font-size", 13).attr("fill", col).text(b.label);
  } else {
    svg.append("text").attr("x", b.x + b.w / 2).attr("y", 1365).attr("text-anchor", "middle")
      .attr("dominant-baseline", "central").attr("font-size", 13).attr("fill", col).text(b.label);
  }
});
svg.append("path").attr("d", "M2538,1370 L2544,1360 L2550,1370 Z").attr("fill", "#333");

svg.append("text").attr("x", 15).attr("y", 1395).attr("dominant-baseline", "central")
  .attr("font-size", 13).attr("fill", TXT).style("white-space", "pre").text("h1daqnds1:8088  [393063 channels]");
const link = svg.append("text").attr("x", 2557).attr("y", 1395).attr("text-anchor", "end")
  .attr("dominant-baseline", "central").attr("font-size", 13).attr("fill", TXT);
link.append("tspan").attr("fill", "#1a2fd6").attr("text-decoration", "underline").text("ndscope 0.17.1");
link.append("tspan").text(" (");
link.append("tspan").attr("fill", "#1a2fd6").attr("text-decoration", "underline").text("report bug");
link.append("tspan").text(")");
</script>
</body>
</html>
